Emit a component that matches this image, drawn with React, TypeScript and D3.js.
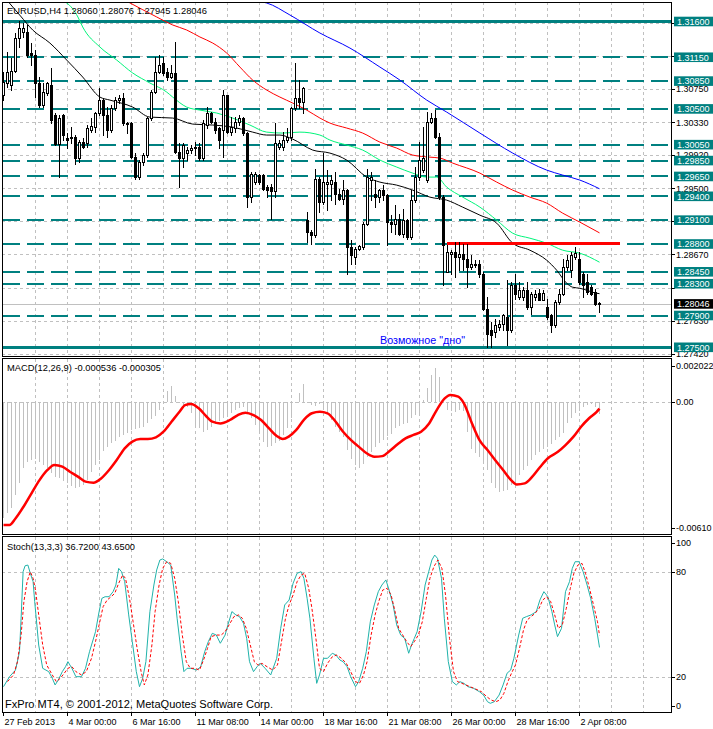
import React from "react";
import * as d3 from "d3";

const W = 713;
const H = 729;
const FONT = "'Liberation Sans', Arial, sans-serif";

// OHLC per H4 bar (0 = 27 Feb 2013 ... 149 = 3 Apr 04:00)
const ohlc: number[][] = [
  [1.30674, 1.30968, 1.30611, 1.30842], [1.30821, 1.3122, 1.30779, 1.30968], [1.308, 1.31136, 1.30737, 1.30976],
  [1.30981, 1.31451, 1.30968, 1.31388], [1.31388, 1.31611, 1.31283, 1.31514], [1.31472, 1.31585, 1.31409, 1.31514],
  [1.31472, 1.31556, 1.31157, 1.31178], [1.31199, 1.31325, 1.31052, 1.31174], [1.31178, 1.31241, 1.30653, 1.30821],
  [1.30821, 1.30905, 1.30527, 1.30548], [1.30548, 1.30821, 1.30527, 1.30716], [1.30695, 1.30842, 1.30674, 1.30821],
  [1.308, 1.3101, 1.30317, 1.30359], [1.30422, 1.30443, 1.30044, 1.30057], [1.30057, 1.30422, 1.29645, 1.3038],
  [1.30422, 1.30435, 1.30107, 1.3017], [1.30128, 1.30191, 1.30002, 1.30107], [1.30128, 1.30275, 1.30065, 1.30149],
  [1.30149, 1.3017, 1.29813, 1.29876], [1.29876, 1.30107, 1.29834, 1.30086], [1.30086, 1.30128, 1.30002, 1.30023],
  [1.30065, 1.30296, 1.30023, 1.30254], [1.30233, 1.3038, 1.30212, 1.30283], [1.30275, 1.30464, 1.30212, 1.30443],
  [1.30443, 1.30758, 1.30422, 1.30611], [1.30611, 1.30632, 1.3017, 1.30422], [1.30422, 1.30527, 1.30149, 1.30233],
  [1.30233, 1.30548, 1.30212, 1.30506], [1.30506, 1.30653, 1.30485, 1.30611], [1.30611, 1.30674, 1.30569, 1.30632],
  [1.30632, 1.30695, 1.30296, 1.30317], [1.30317, 1.30338, 1.30191, 1.30309], [1.30317, 1.30338, 1.29876, 1.29897],
  [1.29897, 1.29939, 1.29624, 1.29645], [1.29645, 1.29855, 1.29624, 1.29834], [1.29834, 1.29939, 1.29792, 1.29918],
  [1.29918, 1.30401, 1.29897, 1.3038], [1.3038, 1.30737, 1.30359, 1.30716], [1.30716, 1.31157, 1.30695, 1.30968],
  [1.30968, 1.31178, 1.30947, 1.31052], [1.31073, 1.31157, 1.30926, 1.30947], [1.30968, 1.3101, 1.30863, 1.30905],
  [1.30905, 1.31052, 1.30884, 1.30947], [1.30947, 1.31346, 1.29939, 1.2996], [1.2996, 1.30065, 1.29519, 1.29876],
  [1.29876, 1.30065, 1.29771, 1.30044], [1.29939, 1.30023, 1.29855, 1.29981], [1.29981, 1.30044, 1.29939, 1.30002],
  [1.30002, 1.30086, 1.29918, 1.30023], [1.30023, 1.30065, 1.29855, 1.29876], [1.29876, 1.30359, 1.29855, 1.30317],
  [1.30296, 1.30527, 1.30254, 1.30443], [1.30443, 1.30464, 1.30317, 1.30338], [1.30338, 1.3038, 1.30191, 1.30233],
  [1.30254, 1.30275, 1.30002, 1.30107], [1.30233, 1.30737, 1.29897, 1.30674], [1.30674, 1.30674, 1.30191, 1.30212],
  [1.30212, 1.30401, 1.3017, 1.30275], [1.30254, 1.30401, 1.30212, 1.30338], [1.30338, 1.30422, 1.30296, 1.3038],
  [1.3038, 1.30401, 1.3017, 1.30191], [1.30191, 1.30212, 1.29267, 1.29393], [1.29393, 1.29708, 1.2933, 1.29687],
  [1.29582, 1.29708, 1.29561, 1.29687], [1.29666, 1.29687, 1.29561, 1.29582], [1.29666, 1.29687, 1.29477, 1.29498],
  [1.29519, 1.2954, 1.29393, 1.29477], [1.29519, 1.29561, 1.2912, 1.29469], [1.29469, 1.30317, 1.29393, 1.30065],
  [1.30023, 1.30107, 1.2999, 1.30065], [1.30023, 1.30212, 1.29981, 1.30107], [1.30107, 1.30254, 1.30086, 1.30149],
  [1.30149, 1.30527, 1.30107, 1.30506], [1.30506, 1.31073, 1.30485, 1.30632], [1.30632, 1.30863, 1.30506, 1.3059],
  [1.3059, 1.30779, 1.30443, 1.30758], [1.29099, 1.29204, 1.28826, 1.28952], [1.28952, 1.28973, 1.28805, 1.2891],
  [1.2891, 1.2975, 1.28889, 1.29624], [1.29616, 1.29645, 1.29204, 1.2933], [1.2933, 1.29939, 1.29309, 1.29582],
  [1.29561, 1.29729, 1.29225, 1.29582], [1.29561, 1.29666, 1.29351, 1.29603], [1.29582, 1.29708, 1.29309, 1.29435],
  [1.29435, 1.29498, 1.29351, 1.29372], [1.29372, 1.29603, 1.29309, 1.29477], [1.29477, 1.29498, 1.28427, 1.28763],
  [1.28763, 1.28847, 1.28553, 1.28658], [1.28637, 1.28763, 1.28553, 1.28742], [1.28742, 1.28784, 1.28721, 1.28776],
  [1.28763, 1.29078, 1.28742, 1.29057], [1.29057, 1.2975, 1.29036, 1.29645], [1.29603, 1.29708, 1.29351, 1.29645],
  [1.29435, 1.29603, 1.29267, 1.29393], [1.29393, 1.29498, 1.2933, 1.29477], [1.29477, 1.2954, 1.29351, 1.29414],
  [1.29414, 1.29435, 1.28784, 1.29078], [1.29078, 1.29162, 1.28952, 1.29057], [1.29057, 1.29288, 1.28931, 1.2912],
  [1.2912, 1.29183, 1.2891, 1.28931], [1.28931, 1.29246, 1.28889, 1.29099], [1.29099, 1.2912, 1.28868, 1.28889],
  [1.28889, 1.29477, 1.28868, 1.29351], [1.29351, 1.29771, 1.2933, 1.29645], [1.29645, 1.30086, 1.29603, 1.29855],
  [1.29729, 1.30275, 1.29708, 1.29876], [1.29603, 1.30464, 1.29582, 1.30338], [1.30338, 1.30443, 1.30317, 1.3038],
  [1.3038, 1.30485, 1.30128, 1.30149], [1.30149, 1.30191, 1.29372, 1.29393], [1.29393, 1.29414, 1.2828, 1.28784],
  [1.28448, 1.28784, 1.28448, 1.287], [1.28671, 1.28721, 1.28427, 1.287], [1.287, 1.28826, 1.28385, 1.28637],
  [1.28637, 1.28826, 1.28469, 1.28679], [1.28679, 1.28805, 1.28469, 1.28616], [1.28616, 1.28805, 1.28259, 1.28511],
  [1.28511, 1.28658, 1.2849, 1.28553], [1.28553, 1.28595, 1.28511, 1.28532], [1.28553, 1.28595, 1.28385, 1.28427],
  [1.28427, 1.28448, 1.27965, 1.27986], [1.27986, 1.28133, 1.27503, 1.27671], [1.27713, 1.27818, 1.27503, 1.2765],
  [1.27692, 1.2786, 1.27629, 1.27776], [1.27755, 1.27839, 1.27713, 1.27797], [1.27797, 1.27923, 1.27713, 1.27902],
  [1.27881, 1.28343, 1.27524, 1.27713], [1.27713, 1.28322, 1.27692, 1.2828], [1.2828, 1.28427, 1.28112, 1.28175],
  [1.28133, 1.28322, 1.28112, 1.28217], [1.28133, 1.28259, 1.28091, 1.28217], [1.28217, 1.28322, 1.27986, 1.28007],
  [1.28007, 1.28196, 1.27923, 1.28175], [1.28133, 1.28217, 1.28091, 1.28175], [1.28186, 1.28238, 1.28091, 1.28099],
  [1.28099, 1.28217, 1.28091, 1.28186], [1.28007, 1.28112, 1.2786, 1.27881], [1.27902, 1.27923, 1.27692, 1.27776],
  [1.27776, 1.28091, 1.27755, 1.2807], [1.2807, 1.28238, 1.28049, 1.28175], [1.28175, 1.28616, 1.28154, 1.28511],
  [1.28511, 1.28658, 1.28469, 1.28595], [1.28469, 1.287, 1.28385, 1.28658], [1.28637, 1.28763, 1.28616, 1.28687],
  [1.28616, 1.287, 1.28301, 1.28322], [1.28427, 1.28448, 1.28133, 1.2828], [1.28322, 1.28427, 1.28175, 1.28196],
  [1.28259, 1.2828, 1.28154, 1.28175], [1.28196, 1.28238, 1.28028, 1.28049], [1.2806, 1.28076, 1.27945, 1.28046],
];

// moving averages: [bar, price]
const maBlack: [number, number][] = [
  [1, 1.3186], [4.25, 1.31669], [7.3, 1.31493], [11.6, 1.31329], [15.8, 1.31115], [19.8, 1.30901], [24.1, 1.30649],
  [26.6, 1.30611], [32.3, 1.30523], [36.6, 1.30397], [42.3, 1.30385], [47.3, 1.30309], [52.3, 1.30297], [57.3, 1.30271],
  [62.3, 1.30208], [65.8, 1.30171], [69.1, 1.30171], [72.3, 1.3012], [77.3, 1.29982], [81.6, 1.29944], [85.8, 1.29856],
  [90.8, 1.29642], [94.1, 1.29579], [98.3, 1.29541], [102.3, 1.29478], [106.6, 1.2939], [110.8, 1.29352], [114.8, 1.29264],
  [119.1, 1.29163], [123.3, 1.29062], [127.3, 1.2881], [131.6, 1.28722], [135.8, 1.28596], [138.3, 1.2847], [140.8, 1.28306],
  [142.3, 1.28256], [144.1, 1.28243], [148.3, 1.2818], [149, 1.28175],
];
const maGreen: [number, number][] = [
  [14.5, 1.3186], [15.8, 1.31833], [18.6, 1.31657], [19.8, 1.31531], [24.1, 1.31279], [28.3, 1.31115], [32.3, 1.30952],
  [36.6, 1.30826], [40.8, 1.30712], [42.3, 1.30649], [45.8, 1.30523], [49.1, 1.30485], [53.3, 1.30448], [57.3, 1.30385],
  [61.6, 1.30297], [65.8, 1.30208], [69.8, 1.30196], [74.1, 1.30208], [79.1, 1.30171], [81.6, 1.30108], [85.8, 1.30045],
  [89.8, 1.29982], [94.1, 1.29856], [98.3, 1.29768], [102.3, 1.29692], [105.8, 1.29642], [108.3, 1.29642], [110.8, 1.29516],
  [114.8, 1.2939], [119.1, 1.29264], [123.3, 1.291], [127.3, 1.28936], [131.6, 1.28873], [135.8, 1.2881], [139.8, 1.28722],
  [144.1, 1.28684], [149, 1.28571],
];
const maRed: [number, number][] = [
  [31, 1.3185], [38.3, 1.31657], [42.3, 1.31556], [45.8, 1.31493], [49.1, 1.31405], [52.3, 1.31329], [55.8, 1.31203],
  [59.1, 1.31027], [62.3, 1.30863], [65.8, 1.30737], [69.1, 1.30649], [72.3, 1.30574], [75.8, 1.30485], [79.1, 1.30385],
  [81.6, 1.30322], [85.8, 1.30259], [89.8, 1.30196], [94.1, 1.30082], [98.3, 1.30007], [102.3, 1.29919], [106.6, 1.29893],
  [109.1, 1.29881], [112.3, 1.29818], [119.1, 1.29692], [123.3, 1.29579], [127.3, 1.29478], [131.6, 1.2939],
  [135.8, 1.29314], [139.8, 1.29188], [144.1, 1.29075], [149, 1.2894],
];
const maBlue: [number, number][] = [
  [62, 1.3186], [65.8, 1.31833], [71.6, 1.31682], [79.1, 1.31455], [86.6, 1.31266], [94.1, 1.31027], [99.1, 1.30863],
  [105.8, 1.30611], [110.8, 1.3046], [119.1, 1.30196], [127.3, 1.29944], [135.8, 1.2973], [139.8, 1.29667],
  [144.1, 1.29604], [149, 1.29495],
];

const macdHist: number[] = [
  -0.005377, -0.005146, -0.004914, -0.004298, -0.003759, -0.003065, -0.002757, -0.00268, -0.002649, -0.002757,
  -0.002911, -0.003065, -0.003266, -0.003451, -0.003528, -0.003635, -0.003759, -0.003882, -0.00399, -0.003944,
  -0.003836, -0.003605, -0.003219, -0.002911, -0.00268, -0.002249, -0.002064, -0.00191, -0.001786, -0.001632,
  -0.001524, -0.001416, -0.001293, -0.001262, -0.001216, -0.001139, -0.000985, -0.0008, -0.000646, -0.000369,
  -0.000029, 0.000525, 0.000741, 0.000279, -0.00006, -0.000137, -0.000214, -0.000492, -0.001062, -0.001216,
  -0.00137, -0.001293, -0.001139, -0.001016, -0.000862, -0.000754, -0.000677, -0.000523, -0.000369, -0.000291,
  -0.000214, -0.000523, -0.000754, -0.001062, -0.00137, -0.001832, -0.002094, -0.002033, -0.001879, -0.001786,
  -0.001524, -0.001216, -0.000754, -0.000029, 0.000402, 0.000833, -0.000029, -0.000137, -0.000184, -0.000091,
  -0.000214, -0.000492, -0.000831, -0.001139, -0.00137, -0.001632, -0.002218, -0.002649, -0.002911, -0.003065,
  -0.002865, -0.002526, -0.002295, -0.002094, -0.00191, -0.001755, -0.00157, -0.001478, -0.001216, -0.001108,
  -0.001016, -0.000954, -0.000754, -0.0006, -0.000492, 0.000094, 0.000633, 0.00125, 0.001558, 0.001172,
  -0.000029, -0.000369, -0.000415, -0.000446, -0.000369, -0.000399, -0.00137, -0.002187, -0.002372, -0.002526,
  -0.002834, -0.003142, -0.003728, -0.00399, -0.004144, -0.004113, -0.004067, -0.003836, -0.003728, -0.003373,
  -0.003142, -0.002957, -0.00268, -0.002449, -0.002295, -0.002187, -0.002064, -0.00194, -0.001755, -0.001632,
  -0.001447, -0.000985, -0.000754, -0.000523, -0.000399, -0.000214, -0.000137, -0.000091, -0.000214, -0.000536,
];

const macdSignal: [number, number][] = [
  [0, -0.00568], [1.5, -0.00568], [3, -0.00538], [5, -0.00484], [7, -0.00422], [9, -0.00361], [11, -0.00314],
  [12.7, -0.00291], [14.7, -0.00299], [16.6, -0.00322], [18.6, -0.00345], [20.5, -0.00368], [22.5, -0.00373],
  [24.4, -0.00353], [26.4, -0.00314], [28.3, -0.00268], [30.3, -0.00214], [32.2, -0.00183], [34.2, -0.00171],
  [36.1, -0.00171], [38.1, -0.00163], [40, -0.00137], [42, -0.00091], [44, -0.00045], [45.4, -0.00014], [46.9, -0.00009],
  [48.8, -0.00029], [50.8, -0.00068], [52.2, -0.00091], [54.2, -0.00099], [56.6, -0.00083], [58.6, -0.0006],
  [60.5, -0.00049], [62.5, -0.0006], [64.4, -0.00083], [66.4, -0.00122], [68.3, -0.00157], [69.8, -0.00171],
  [71.3, -0.0016], [73.2, -0.00129], [75.2, -0.0008], [77.1, -0.00052], [79.1, -0.00045], [81, -0.00052], [83, -0.0009],
  [84.9, -0.00137], [86.9, -0.00176], [88.8, -0.00206], [90.8, -0.00237], [92.7, -0.00253], [94.7, -0.0025],
  [96.6, -0.00225], [98.6, -0.00194], [100.5, -0.00168], [102.5, -0.00152], [104.4, -0.00137], [106.4, -0.00099],
  [108.3, -0.00037], [110.3, 0.00017], [111.7, 0.00033], [113.7, 0.00025], [115.1, -0.00006], [117.1, -0.00098],
  [119, -0.00176], [121, -0.00222], [122.9, -0.00268], [124.9, -0.00314], [126.9, -0.00361], [128.3, -0.00381],
  [130.3, -0.00376], [132.2, -0.00345], [134.2, -0.00299], [136.1, -0.0026], [138.6, -0.0023], [140.5, -0.00199],
  [142.5, -0.0016], [144.4, -0.00114], [146.4, -0.00075], [148.3, -0.00045], [149, -0.000305],
];

const stochMain: [number, number][] = [
  [0, 14.3], [1.5, 20.0], [3, 23.8], [4, 34.3], [4.4, 53.4], [4.9, 80.0], [5.4, 83.4], [6.1, 83.8], [6.7, 79.1],
  [7.4, 74.3], [7.8, 62.9], [8.8, 38.1], [9.8, 24.8], [11.3, 22.9], [12.2, 19.1], [12.9, 15.3], [13.7, 18.1],
  [14.7, 22.9], [15.5, 25.7], [16.1, 28.6], [17.1, 24.8], [18.1, 20.0], [19.5, 20.0], [20.5, 24.8], [21.5, 34.3],
  [23, 45.7], [23.9, 57.2], [24.6, 64.8], [25.4, 65.7], [26.4, 65.7], [27.4, 68.6], [28.1, 72.4], [28.8, 81.9],
  [29.5, 80.0], [30.3, 74.3], [31.3, 55.3], [32.2, 40.0], [33.2, 22.9], [34, 14.3], [34.8, 19.1], [35.6, 28.6],
  [36.6, 57.2], [37.6, 72.4], [38.3, 81.0], [39.1, 86.7], [39.8, 87.3], [40.8, 85.7], [41.8, 83.8], [42.8, 66.7],
  [43.4, 53.4], [44.4, 34.3], [45.1, 22.9], [45.9, 24.8], [46.9, 24.8], [48.3, 23.8], [49.3, 25.7], [50.3, 34.3],
  [51.2, 40.0], [52.2, 44.8], [53.2, 43.8], [54.2, 39.1], [55.4, 43.8], [56.1, 49.6], [57.1, 57.2], [58.1, 55.3],
  [59, 54.3], [60, 50.5], [60.8, 41.9], [61.5, 28.6], [62.5, 22.9], [63.4, 25.7], [64.2, 27.6], [65.4, 24.8],
  [66.8, 21.0], [68.3, 30.5], [69.3, 47.6], [70.3, 61.0], [71.4, 63.8], [72.4, 73.4], [73.4, 79.1], [74.4, 80.0],
  [75.1, 76.2], [75.9, 64.8], [76.6, 53.4], [77.6, 30.5], [78.3, 16.2], [79, 21.0], [80, 30.5], [81, 30.5],
  [82.2, 33.4], [83.1, 32.4], [84.1, 29.5], [84.9, 28.6], [85.9, 25.7], [86.8, 20.0], [88, 14.3], [88.8, 17.2],
  [89.8, 24.8], [90.7, 34.3], [91.7, 51.4], [92.7, 61.0], [93.7, 68.6], [94.6, 72.4], [95.6, 75.3], [96.4, 69.5],
  [97.4, 61.0], [98.3, 49.6], [99.3, 43.8], [100.3, 41.9], [101.3, 33.4], [102, 38.1], [102.7, 41.9], [103.4, 45.7],
  [104.4, 57.2], [105.4, 72.4], [106.3, 80.0], [107.1, 86.7], [107.8, 89.5], [108.5, 87.6], [109.5, 76.2],
  [110.2, 53.4], [111.2, 28.6], [112.2, 17.2], [113.2, 15.3], [114.1, 17.2], [115.1, 16.2], [116.1, 14.3],
  [117.5, 13.4], [119, 11.4], [120, 9.5], [121, 5.7], [121.7, 4.8], [122.7, 5.7], [123.9, 9.5], [124.9, 15.3],
  [125.9, 22.0], [126.8, 23.8], [127.6, 30.5], [128.8, 43.8], [129.8, 53.4], [130.7, 54.3], [131.9, 55.3],
  [133.2, 57.2], [134.1, 63.8], [135.1, 68.6], [136.1, 65.7], [137.1, 57.2], [137.8, 49.6], [138.5, 42.9],
  [139.5, 47.6], [140.5, 68.6], [141.5, 74.3], [142.2, 81.9], [142.9, 85.7], [143.9, 85.7], [144.9, 80.0],
  [145.9, 72.4], [146.8, 64.8], [147.8, 53.4], [148.5, 43.8], [149, 36.72],
];

const stochSignal: [number, number][] = [
  [1, 17.2], [2.5, 21.0], [3.5, 28.6], [4.4, 43.8], [5.1, 62.9], [5.9, 74.3], [6.7, 80.0], [7.4, 76.2], [8, 69.5],
  [8.8, 55.3], [9.8, 38.1], [10.8, 26.7], [12.2, 21.0], [13.2, 17.2], [14.2, 19.1], [15.2, 22.0], [16.1, 24.8],
  [17.1, 25.7], [18.1, 22.9], [19.5, 21.0], [20.7, 22.9], [22, 30.5], [23, 40.0], [23.9, 49.6], [24.9, 60.0],
  [25.9, 63.8], [26.9, 65.7], [27.8, 67.6], [28.8, 73.4], [29.8, 78.1], [30.5, 76.2], [31.5, 64.8], [32.4, 51.4],
  [33.4, 36.2], [34.4, 22.9], [35.2, 15.3], [36.1, 21.0], [37.1, 38.1], [37.9, 57.2], [38.9, 72.4], [39.8, 81.9],
  [40.8, 85.7], [41.8, 84.8], [42.8, 76.2], [43.7, 62.9], [44.7, 43.8], [45.7, 28.6], [46.7, 24.8], [47.8, 24.8],
  [49, 23.8], [50, 29.5], [51, 36.2], [51.9, 42.9], [53.2, 43.8], [54.4, 43.8], [55.4, 45.7], [56.4, 49.6],
  [57.6, 54.3], [58.8, 55.3], [59.7, 53.4], [60.7, 47.6], [61.7, 38.1], [62.7, 28.6], [63.6, 26.7], [64.6, 27.6],
  [65.9, 25.7], [67.3, 23.8], [68.5, 26.7], [69.5, 40.0], [70.5, 53.4], [71.4, 61.0], [72.4, 66.7], [73.4, 74.3],
  [74.4, 78.1], [75.3, 79.1], [76.3, 70.5], [77.1, 59.1], [78.1, 41.9], [79, 24.8], [80, 22.9], [81, 27.6],
  [82.2, 31.4], [83.3, 32.4], [84.5, 30.5], [85.7, 27.6], [86.8, 22.9], [88, 17.2], [89, 16.2], [90, 21.0],
  [90.9, 28.6], [91.9, 43.8], [92.9, 55.3], [93.8, 62.9], [94.8, 69.5], [95.9, 70.5], [96.9, 66.7], [97.8, 58.1],
  [98.8, 47.6], [99.8, 43.8], [100.8, 40.0], [101.8, 37.2], [102.7, 40.0], [103.7, 43.8], [104.7, 51.4],
  [105.7, 64.8], [106.6, 76.2], [107.6, 82.9], [108.6, 86.7], [109.6, 81.9], [110.5, 66.7], [111.5, 41.9],
  [112.5, 22.9], [113.5, 17.2], [114.6, 16.2], [115.6, 15.3], [116.6, 14.3], [118, 13.0], [119.5, 11.4],
  [120.8, 8.6], [121.9, 6.7], [123.1, 5.7], [124.1, 6.7], [125.1, 10.5], [126.1, 17.2], [127, 22.0], [128, 26.7],
  [129, 36.2], [130, 46.7], [130.9, 52.4], [131.9, 54.3], [132.9, 56.2], [133.9, 59.1], [134.8, 63.8],
  [135.8, 65.7], [136.8, 62.9], [137.8, 55.3], [138.7, 47.6], [139.7, 49.6], [140.7, 59.1], [141.7, 70.5],
  [142.6, 79.1], [143.6, 83.8], [144.6, 84.8], [145.5, 79.1], [146.5, 70.5], [147.5, 61.0], [148.5, 51.4], [149, 43.65],
];

const tealLevels = [1.316, 1.3115, 1.3085, 1.305, 1.3005, 1.2985, 1.2965, 1.294, 1.291, 1.288, 1.2845, 1.283, 1.279, 1.275];
const solidLevels = [1.316, 1.275];
const gridLevels = [1.3158, 1.3117, 1.3075, 1.3033, 1.2992, 1.295, 1.2909, 1.2867, 1.2825, 1.2783, 1.2742];
// grid labels that remain (partly) visible beside the teal level boxes
const gridLabelLevels = [1.3075, 1.3033, 1.2992, 1.295, 1.2867, 1.2783, 1.2742];
const currentPrice = 1.28046;
const supportLevel = 1.288;
const supportStartBar = 110.8;
const dateBars = [0, 16, 32, 48, 64, 80, 96, 112, 128, 144];
const dateLabels = ["27 Feb 2013", "4 Mar 00:00", "6 Mar 16:00", "11 Mar 08:00", "14 Mar 00:00", "18 Mar 16:00",
  "21 Mar 08:00", "26 Mar 00:00", "28 Mar 16:00", "2 Apr 08:00"];
const macdTicks = [0.002022, 0, -0.0061];
const macdTickLabels = ["0.002022", "0.00", "-0.00610"];
const stochTicks = [100, 80, 20, 0];

export default function App() {
  const L = 2, R = 672;
  const mainTop = 2, mainBot = 356;
  const macdTop = 358.5, macdBot = 534;
  const stTop = 536.5, stBot = 712;

  const x = d3.scaleLinear().domain([0, 149]).range([3.5, 599.5]);
  const yM = d3.scaleLinear().domain([1.275, 1.316]).range([347.3, 21.5]);
  const yD = d3.scaleLinear().domain([-0.0061, 0.002022]).range([534, 358.3]);
  const yS = d3.scaleLinear().domain([0, 100]).range([711.7, 536.7]);

  const maLine = d3.line<[number, number]>().x((d) => x(d[0])).y((d) => yM(d[1])).curve(d3.curveMonotoneX);
  const sigLine = d3.line<[number, number]>().x((d) => x(d[0])).y((d) => yD(d[1])).curve(d3.curveMonotoneX);
  const stLine = d3.line<[number, number]>().x((d) => x(d[0])).y((d) => yS(d[1]));

  const px = (v: number) => Math.round(v) + 0.5;
  const gridX = d3.range(1, 21).map((k) => x(8 * k));

  const axisText = (key: string, y: number, label: string) => (
    <g key={key}>
      <line x1={R} x2={R + 3} y1={px(y)} y2={px(y)} stroke="#000" />
      <text x={676} y={y + 3.3} fontSize={9} fontFamily={FONT} fill="#000">{label}</text>
    </g>
  );

  return (
    <div style={{ position: "absolute", left: 0, top: 0, width: W, height: H, overflow: "hidden", background: "#fff" }}>
      <svg width={W} height={H} viewBox={`0 0 ${W} ${H}`} style={{ display: "block" }}>
        <defs>
          <clipPath id="cMain"><rect x={L} y={mainTop} width={R - L} height={mainBot - mainTop} /></clipPath>
          <clipPath id="cMacd"><rect x={L} y={macdTop} width={R - L} height={macdBot - macdTop} /></clipPath>
          <clipPath id="cSt"><rect x={L} y={stTop} width={R - L} height={stBot - stTop} /></clipPath>
        </defs>
        <rect x={0} y={0} width={W} height={H} fill="#fff" />

        {/* vertical grid */}
        <g stroke="#c0c0c0" strokeDasharray="3,3" shapeRendering="crispEdges">
          {gridX.map((gx, i) => (
            <g key={i}>
              <line x1={gx} x2={gx} y1={mainTop} y2={mainBot} />
              <line x1={gx} x2={gx} y1={macdTop} y2={macdBot} />
              <line x1={gx} x2={gx} y1={stTop} y2={stBot} />
            </g>
          ))}
        </g>

        {/* ===== MAIN PANEL ===== */}
        <g clipPath="url(#cMain)">
          <g stroke="#c0c0c0" strokeDasharray="3,3" shapeRendering="crispEdges">
            {gridLevels.map((p) => (
              <line key={p} x1={L} x2={R} y1={px(yM(p))} y2={px(yM(p))} />
            ))}
          </g>
          <line x1={L} x2={R} y1={px(yM(currentPrice))} y2={px(yM(currentPrice))} stroke="#c0c0c0" shapeRendering="crispEdges" />
          {tealLevels.filter((p) => !solidLevels.includes(p)).map((p) => (
            <line key={p} x1={3.3} x2={R} y1={Math.round(yM(p))} y2={Math.round(yM(p))} stroke="#008080" strokeWidth={2}
              strokeDasharray="17,7" shapeRendering="crispEdges" />
          ))}
          {solidLevels.map((p) => (
            <line key={p} x1={L} x2={R} y1={yM(p)} y2={yM(p)} stroke="#008080" strokeWidth={3} shapeRendering="crispEdges" />
          ))}

          <path d={maLine(maBlue) || ""} fill="none" stroke="#0000ff" strokeWidth={1} />
          <path d={maLine(maRed) || ""} fill="none" stroke="#ff0000" strokeWidth={1} />
          <path d={maLine(maGreen) || ""} fill="none" stroke="#00f57a" strokeWidth={1} />
          <path d={maLine(maBlack) || ""} fill="none" stroke="#000" strokeWidth={1} />

          <line x1={x(supportStartBar)} x2={620} y1={yM(supportLevel)} y2={yM(supportLevel)} stroke="#ff0000" strokeWidth={3}
            shapeRendering="crispEdges" />

          <g shapeRendering="crispEdges">
            {ohlc.map((d, i) => {
              const [o, h, l, c] = d;
              const cx = x(i);
              const top = Math.round(yM(Math.max(o, c)));
              const bot = Math.round(yM(Math.min(o, c)));
              const bull = c >= o;
              return (
                <g key={i}>
                  <line x1={cx} x2={cx} y1={Math.round(yM(h))} y2={Math.round(yM(l)) + 1} stroke="#000" />
                  {bull ? (
                    <rect x={cx - 1} y={top + 0.5} width={2} height={Math.max(bot - top, 1)} fill="#fff" stroke="#000" />
                  ) : (
                    <rect x={cx - 1.5} y={top} width={3} height={Math.max(bot - top + 1, 1)} fill="#000" />
                  )}
                </g>
              );
            })}
          </g>

          <text x={380} y={344} fontSize={10} fontFamily={FONT} fill="#0000ff" textLength={85} lengthAdjust="spacingAndGlyphs">
            Возможное "дно"
          </text>
        </g>
        <text x={7} y={14} fontSize={9} fontFamily={FONT} fill="#000" textLength={200} lengthAdjust="spacingAndGlyphs">
          EURUSD,H4  1.28060 1.28076 1.27945 1.28046
        </text>

        {/* ===== MACD PANEL ===== */}
        <g clipPath="url(#cMacd)">
          <line x1={L} x2={R} y1={px(yD(0))} y2={px(yD(0))} stroke="#c0c0c0" strokeDasharray="3,3" shapeRendering="crispEdges" />
          <g stroke="#c0c0c0" shapeRendering="crispEdges">
            {macdHist.map((v, i) => (
              <line key={i} x1={x(i)} x2={x(i)} y1={Math.round(yD(0))} y2={Math.round(yD(v))} />
            ))}
          </g>
          <path d={sigLine(macdSignal) || ""} fill="none" stroke="#ff0000" strokeWidth={2.5} strokeLinejoin="round" />
        </g>
        <text x={7} y={371} fontSize={9} fontFamily={FONT} fill="#000" textLength={154} lengthAdjust="spacingAndGlyphs">
          MACD(12,26,9) -0.000536 -0.000305
        </text>

        {/* ===== STOCH PANEL ===== */}
        <g clipPath="url(#cSt)">
          <g stroke="#c0c0c0" strokeDasharray="3,3" shapeRendering="crispEdges">
            {[80, 20].map((v) => (
              <line key={v} x1={L} x2={R} y1={px(yS(v))} y2={px(yS(v))} />
            ))}
          </g>
          <path d={stLine(stochMain) || ""} fill="none" stroke="#20b2aa" strokeWidth={1} />
          <path d={stLine(stochSignal) || ""} fill="none" stroke="#ff0000" strokeWidth={1} strokeDasharray="3,2" />
        </g>
        <text x={7} y={550} fontSize={9} fontFamily={FONT} fill="#000" textLength={128} lengthAdjust="spacingAndGlyphs">
          Stoch(13,3,3) 36.7200 43.6500
        </text>
        <text x={5} y={708} fontSize={10} fontFamily={FONT} fill="#000" textLength={268} lengthAdjust="spacingAndGlyphs">
          FxPro MT4, © 2001-2012, MetaQuotes Software Corp.
        </text>

        {/* panel frames */}
        <g fill="none" stroke="#000" shapeRendering="crispEdges">
          <rect x={L + 0.5} y={mainTop + 0.5} width={R - L - 1} height={mainBot - mainTop} />
          <rect x={L + 0.5} y={macdTop} width={R - L - 1} height={macdBot - macdTop} />
          <rect x={L + 0.5} y={stTop} width={R - L - 1} height={stBot - stTop} />
        </g>

        {/* right price axis - main */}
        {gridLevels.map((p) => (
          <line key={"gt" + p} x1={R} x2={R + 3} y1={px(yM(p))} y2={px(yM(p))} stroke="#000" />
        ))}
        {gridLabelLevels.map((p) => axisText("g" + p, yM(p), p.toFixed(5)))}
        {tealLevels.map((p) => (
          <g key={"t" + p}>
            <rect x={674} y={yM(p) - 4.8} width={39} height={9.6} fill="#008080" />
            <text x={677} y={yM(p) + 3.3} fontSize={9} fontFamily={FONT} fill="#fff">{p.toFixed(5)}</text>
          </g>
        ))}
        <g>
          <rect x={674} y={yM(currentPrice) - 4.8} width={39} height={9.6} fill="#000" />
          <text x={677} y={yM(currentPrice) + 3.3} fontSize={9} fontFamily={FONT} fill="#fff">{currentPrice.toFixed(5)}</text>
        </g>

        {/* MACD axis */}
        {macdTicks.map((v, i) => {
          const yy = Math.min(Math.max(yD(v), macdTop + 7), macdBot - 6);
          return axisText("m" + i, yy, macdTickLabels[i]);
        })}
        {/* Stoch axis */}
        {stochTicks.map((v) => {
          const yy = Math.min(Math.max(yS(v), stTop + 6.5), stBot - 6.5);
          return axisText("s" + v, yy, String(v));
        })}

        {/* time axis */}
        {dateBars.map((b, i) => (
          <g key={b}>
            <line x1={x(b)} x2={x(b)} y1={stBot} y2={stBot + 4} stroke="#000" shapeRendering="crispEdges" />
            <text x={x(b) + 1} y={725} fontSize={9} fontFamily={FONT} fill="#000">{dateLabels[i]}</text>
          </g>
        ))}
      </svg>
    </div>
  );
}
